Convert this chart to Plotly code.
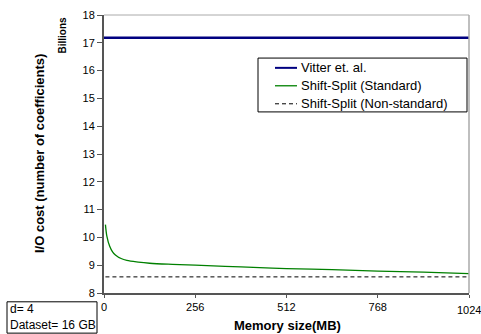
import plotly.graph_objects as go

memory_mb = [4, 8, 16, 24, 32, 48, 64, 96, 128, 192, 256, 384, 512, 640, 768, 896, 1024]
standard = [10.46, 10.05, 9.68, 9.48, 9.37, 9.24, 9.17, 9.11, 9.07, 9.03, 9.0, 8.94, 8.88, 8.84, 8.79, 8.75, 8.70]
vitter_x = [0, 1024]
vitter = [17.18, 17.18]
nonstd_x = [4, 1024]
nonstd = [8.58, 8.58]
x_ticks = [0, 256, 512, 768, 1024]
y_ticks = list(range(8, 19))

series_names = ["Vitter et. al.", "Shift-Split (Standard)", "Shift-Split (Non-standard)"]
series_colors = ["#000080", "#008000", "#000000"]
series_widths = [2.5, 1.3, 1]
series_dash = ["solid", "solid", "4px,3px"]

W, H = 481, 334
L, R, T, B = 104, 12, 9, 41
pw, ph = W - L - R, H - T - B

def px(x):
    return (x - L) / pw

def py(y):
    return (H - B - y) / ph

FONT = "Liberation Sans, Arial, sans-serif"

fig = go.Figure()
fig.add_trace(go.Scatter(x=vitter_x, y=vitter, mode="lines", name=series_names[0],
                         line=dict(color=series_colors[0], width=series_widths[0])))
fig.add_trace(go.Scatter(x=memory_mb, y=standard, mode="lines", name=series_names[1],
                         line=dict(color=series_colors[1], width=series_widths[1], shape="spline")))
fig.add_trace(go.Scatter(x=nonstd_x, y=nonstd, mode="lines", name=series_names[2],
                         line=dict(color=series_colors[2], width=series_widths[2], dash=series_dash[2])))

shapes = [
    dict(type="line", xref="paper", yref="paper", x0=0, x1=1, y0=1, y1=1,
         line=dict(color="#aaaaaa", width=1)),
    dict(type="line", xref="paper", yref="paper", x0=1, x1=1, y0=0, y1=1,
         line=dict(color="#aaaaaa", width=1.5)),
    dict(type="rect", xref="paper", yref="paper", x0=px(258), x1=px(467), y0=py(53), y1=py(108),
         line=dict(color="black", width=1), fillcolor="white", layer="below"),
    dict(type="rect", xref="paper", yref="paper", x0=px(7), x1=px(97), y0=py(302), y1=py(334),
         line=dict(color="black", width=1), fillcolor="white"),
]
annotations = [
    dict(text="<b>I/O cost (number of coefficients)</b>", xref="paper", yref="paper",
         x=px(39), y=py(151), textangle=-90, showarrow=False, font=dict(size=13),
         xanchor="center", yanchor="middle"),
    dict(text="<b>Billions</b>", xref="paper", yref="paper",
         x=px(63), y=py(30), textangle=-90, showarrow=False, font=dict(size=10),
         xanchor="center", yanchor="middle"),
    dict(text="<b>Memory size(MB)</b>", xref="paper", yref="paper",
         x=px(287), y=py(326), showarrow=False, font=dict(size=13),
         xanchor="center", yanchor="middle"),
    dict(text="1024", xref="x", yref="paper",
         x=1024, y=py(310.5), showarrow=False, font=dict(size=11),
         xanchor="center", yanchor="middle"),
    dict(text="d= 4<br>Dataset= 16 GB", xref="paper", yref="paper",
         x=px(8), y=py(318), showarrow=False, font=dict(size=12),
         xanchor="left", yanchor="middle", align="left"),
]

legend_y = [63, 81.3, 99.7]
for name, col, w, d, yy in zip(series_names, series_colors, series_widths, series_dash, legend_y):
    shapes.append(dict(type="line", xref="paper", yref="paper", x0=px(275), x1=px(297),
                       y0=py(yy), y1=py(yy), line=dict(color=col, width=min(w, 2), dash=d)))
    annotations.append(dict(text=name, xref="paper", yref="paper", x=px(299), y=py(yy),
                            showarrow=False, font=dict(size=13), xanchor="left", yanchor="middle"))

fig.update_layout(
    width=W, height=H,
    margin=dict(l=L, r=R, t=T, b=B),
    paper_bgcolor="white", plot_bgcolor="white",
    font=dict(family=FONT, size=11, color="black"),
    showlegend=False,
    xaxis=dict(range=[0, 1024], tickvals=x_ticks, ticktext=["0", "256", "512", "768", ""],
               showgrid=False, zeroline=False,
               showline=True, linecolor="#555555", linewidth=2,
               ticks="outside", ticklen=3, tickcolor="#555555",
               tickfont=dict(size=11)),
    yaxis=dict(range=[8, 18], tickvals=y_ticks, showgrid=False, zeroline=False,
               showline=True, linecolor="#555555", linewidth=2,
               ticks="outside", ticklen=5, tickcolor="#555555",
               tickfont=dict(size=11)),
    shapes=shapes,
    annotations=annotations,
)

fig.write_html("out.html", config={"displayModeBar": False},
               post_script="document.body.style.margin='0';document.body.style.padding='0';document.body.style.overflow='hidden';")
